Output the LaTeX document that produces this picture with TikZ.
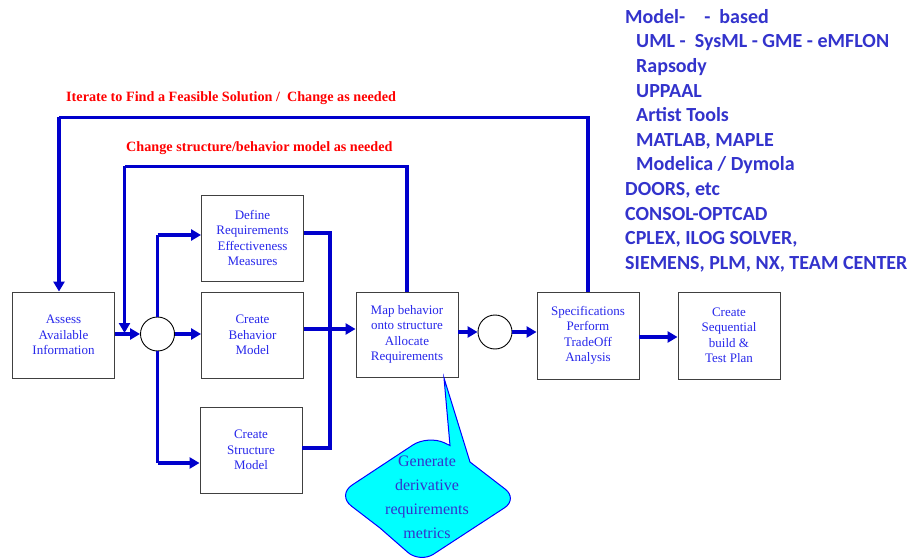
\documentclass[tikz,border=0pt]{standalone}
\usepackage{fontspec}
\setmainfont{Liberation Serif}
\newfontfamily\listfont{Carlito}
\usetikzlibrary{arrows.meta}
\definecolor{connblue}{RGB}{0,0,204}
\definecolor{txtblue}{RGB}{40,40,235}
\definecolor{listblue}{RGB}{51,51,204}
\definecolor{calloutcyan}{RGB}{0,255,255}
\tikzset{
  box/.style={draw=black!75, line width=0.9pt, fill=white, minimum width=102pt, minimum height=86pt,
    align=center, text=txtblue, font=\fontsize{13}{15.5}\selectfont, inner sep=0pt},
  junction/.style={circle, draw=black, line width=0.9pt, fill=white, minimum size=34pt, inner sep=0pt},
  conn/.style={draw=connblue, line width=3.5pt},
  arr/.style={conn, -{Triangle[length=10pt,width=11pt]}},
  redlabel/.style={text=red, font=\fontsize{14.2}{16}\selectfont\bfseries, anchor=base west, inner sep=0pt},
  listitem/.style={text=listblue, font=\listfont\fontsize{20}{24}\selectfont\bfseries, anchor=base west, inner sep=0pt},
  callout/.style={draw=blue, line width=1pt, fill=calloutcyan},
  callouttext/.style={text=listblue, font=\fontsize{16}{24}\selectfont, align=center, inner sep=0pt}
}
\begin{document}
\begin{tikzpicture}[x=1pt,y=-1pt]
\useasboundingbox (0,0) rectangle (908,559);

% boxes
\node[box] (assess) at (63.5,335) {Assess\\Available\\Information};
\node[box] (define) at (252.5,238) {Define\\Requirements\\Effectiveness\\Measures};
\node[box] (behav) at (252.5,335) {Create\\Behavior\\Model};
\node[box] (struct) at (251,450) {Create\\Structure\\Model};
\node[box, minimum height=85pt] (map) at (407,334.5) {Map behavior\\onto structure\\Allocate\\Requirements};
\node[box, minimum height=87pt] (spec) at (588,335.5) {Specifications\\Perform\\TradeOff\\Analysis};
\node[box, minimum height=87pt] (seq) at (729,335.5) {Create\\Sequential\\build \&\\Test Plan};

\node[junction] (j1) at (157.5,334) {};
\node[junction] (j2) at (495,332) {};

% helper coordinates
\coordinate (otr) at (588,117.5);
\coordinate (otl) at (59,117.5);
\coordinate (itr) at (407,166.5);
\coordinate (itl) at (124.5,166.5);
\coordinate (ijoin) at (124.5,333);
\coordinate (jup) at (157.5,235);
\coordinate (jdn) at (157.5,463);
\coordinate (rbus) at (330,233);
\coordinate (rbot) at (330,448);

% feedback loops
\draw[conn] (spec.north) -- (otr) -- (otl);
\draw[arr] (otl) -- (otl |- assess.north);
\draw[conn] (map.north) -- (itr) -- (itl);
\draw[arr] (itl) -- (ijoin);

% forward flow
\draw[arr] (assess.east |- j1) -- (j1.west);
\draw[conn] (j1.north) -- (jup);
\draw[arr] (jup) -- (define.west |- jup);
\draw[arr] (j1.east) -- (behav.west |- j1);
\draw[conn] (j1.south) -- (jdn);
\draw[arr] (jdn) -- (struct.west |- jdn);
\draw[conn] (define.east |- rbus) -- (rbus) -- (rbot) -- (struct.east |- rbot);
\draw[arr] (behav.east |- 0,329) -- (map.west |- 0,329);
\draw[arr] (map.east |- j2) -- (j2.west);
\draw[arr] (j2.east) -- (spec.west |- j2);
\draw[arr] (spec.east |- 0,337) -- (seq.west |- 0,337);

% red labels
\node[redlabel] (lab1) at (66,102) {Iterate to Find a Feasible Solution /\ \ Change as needed};
\node[redlabel] (lab2) at (126,152) {Change structure/behavior model as needed};

% callout
\draw[callout] (380,528) [rounded corners=18pt] -- (337,495) -- (428,435) [sharp corners] -- (450,445.5) -- (444,378) -- (470,462) [rounded corners=16pt] -- (518,499) -- (420,563) [sharp corners] -- (380,528) -- cycle;
\node[callouttext] (ctext) at (427,497) {Generate\\derivative\\requirements\\metrics};

% tool list
\node[listitem] (l1) at (625,23.3) {Model-\hspace{19pt}-\hspace{9pt}based};
\node[listitem] (l2) at (636,47.9) {UML -\ \ SysML - GME - eMFLON};
\node[listitem] (l3) at (636,72.5) {Rapsody};
\node[listitem] (l4) at (636,97.1) {UPPAAL};
\node[listitem] (l5) at (636,121.7) {Artist Tools};
\node[listitem] (l6) at (636,146.3) {MATLAB, MAPLE};
\node[listitem] (l7) at (636,170.9) {Modelica / Dymola};
\node[listitem] (l8) at (625,195.5) {DOORS, etc};
\node[listitem] (l9) at (625,220.1) {CONSOL-OPTCAD};
\node[listitem] (l10) at (625,244.7) {CPLEX, ILOG SOLVER,};
\node[listitem] (l11) at (625,269.3) {SIEMENS, PLM, NX, TEAM CENTER};
\end{tikzpicture}
\end{document}
